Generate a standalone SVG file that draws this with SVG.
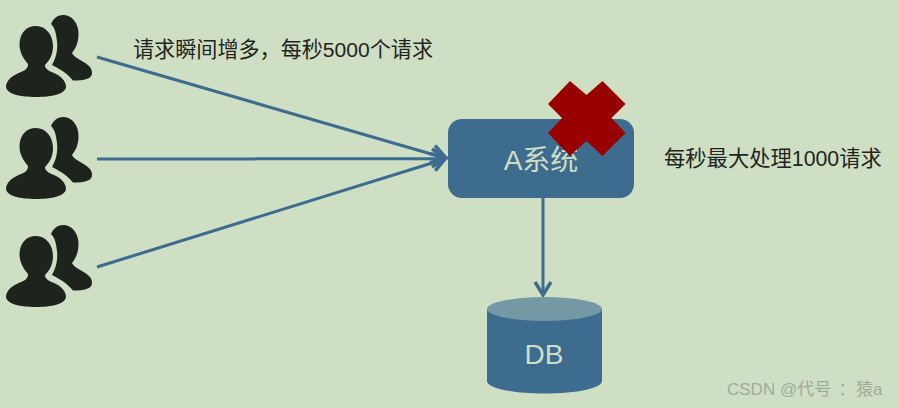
<svg xmlns="http://www.w3.org/2000/svg" width="899" height="408" viewBox="0 0 899 408">
<style>
.t{font-family:"Liberation Sans","Noto Sans CJK SC",sans-serif}
.lbl{font-size:21.3px;fill:#1f241e}
.in{font-size:28px;fill:#cfdfc4}
.ln{fill:none;stroke:#3d6c8f;stroke-width:3}
.hd{fill:none;stroke:#3d6c8f;stroke-width:3.5}
.wm{font-size:17px;fill:#9fab99}
</style>
<defs>
<g id="user">
<path fill="#1f231e" d="M63 15C72 15 78.500 23 78.500 34C78.500 42 76 48 72 53C74 58 84 61 89 66C93 70 93 76 89 78C84 80.500 78 80.500 73 80.500C68 74 60 69 52 65C56 58 58 50 57 41C56 33 55 28 51 24C53 19 57 15 63 15Z"/>
<path fill="#1f231e" d="M36 26C46 26 53 35 53 46C53 54 50 60 45 65C45 69 49 71 54 73C61 76 66 81 66 87C65 94 52 97 36 97C20 97 7 94 6 87C6 80 13 75 21 72C26 70 28 68 28 64C23 58 19.500 52 19.500 44C20 33 26 26 36 26Z"/>
</g>
</defs>
<rect width="899" height="408" fill="#cfdfc4"/>
<g id="connectors">
<path class="ln" d="M97 57L445 158M97 159L445 158.500M97 267L445 159M543 198L543 294"/>
<path class="hd" d="M435 145.500L446 158L430 162.700M432 149L446 158L432 167M435.300 170.700L446 158L430 153.500M535 282L543 295L551 282"/>
</g>
<g id="user1"><use href="#user"/></g>
<g id="user2"><use href="#user" y="102"/></g>
<g id="user3"><use href="#user" y="210"/></g>
<g id="system-a">
<rect x="448" y="119" width="186" height="79" rx="14" fill="#3d6c8f"/>
<text class="t in" x="541" y="170" text-anchor="middle">A系统</text>
</g>
<g id="cross"><path fill="#990000" d="M570 81L586.500 95L602.500 81L625.500 104L611.500 118L625.500 133L602.500 156L586.500 141L570 156L548 133L562 118L548 104Z"/></g>
<g id="db">
<path fill="#3d6c8f" d="M487 309V381C487 388 512 393.500 544.500 393.500C577 393.500 602 388 602 381V309Z"/>
<ellipse cx="544.500" cy="309" rx="57.500" ry="12" fill="#7499a5"/>
<text class="t in" x="544" y="364" text-anchor="middle">DB</text>
</g>
<text class="t lbl" x="133" y="57" style="font-size:21.1px">请求瞬间增多，每秒5000个请求</text>
<text class="t lbl" x="664" y="166">每秒最大处理1000请求</text>
<text class="t wm" x="727" y="395">CSDN @代号<tspan x="838.500">：</tspan><tspan x="856">猿a</tspan></text>
</svg>
